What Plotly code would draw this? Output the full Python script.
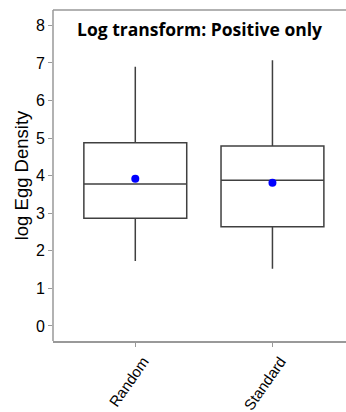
import plotly.graph_objects as go

categories = ["Random", "Standard"]
q1 = [2.87, 2.64]
median = [3.78, 3.88]
q3 = [4.88, 4.79]
lower = [1.73, 1.52]
upper = [6.90, 7.07]
means = [3.92, 3.81]

fig = go.Figure()
for i, c in enumerate(categories):
    fig.add_trace(go.Box(
        x=[c], q1=[q1[i]], median=[median[i]], q3=[q3[i]],
        lowerfence=[lower[i]], upperfence=[upper[i]],
        fillcolor="white", line=dict(color="#404040", width=1.5),
        whiskerwidth=0, width=0.75, showlegend=False, boxpoints=False,
    ))
fig.add_trace(go.Scatter(x=categories, y=means, mode="markers",
                         marker=dict(color="blue", size=8), showlegend=False))

fig.update_layout(
    width=352, height=412,
    margin=dict(l=53, r=0, t=10, b=71),
    plot_bgcolor="white", paper_bgcolor="white",
    font=dict(family="Liberation Sans, Arial", color="black"),
    annotations=[dict(text="<b>Log transform: Positive only</b>", x=0.49, y=0.985,
                      xref="paper", yref="paper", xanchor="center", yanchor="top",
                      showarrow=False, font=dict(family="Open Sans", size=17.5, color="black"))],
    shapes=[dict(type="line", xref="paper", yref="paper", x0=0, x1=1, y0=1, y1=1,
                 line=dict(color="#999999", width=1.5)),
            dict(type="line", xref="paper", yref="paper", x0=0, x1=0, y0=0, y1=1,
                 line=dict(color="#999999", width=1.5))],
)
fig.update_xaxes(range=[-0.6, 1.58], showline=True, linecolor="#999999", linewidth=1.5,
                 mirror=False, ticks="outside", ticklen=4, tickcolor="#999999",
                 tickangle=-55, tickfont=dict(size=15), ticklabelshift=8,
                 showgrid=False, automargin=False)
fig.update_yaxes(range=[-0.4, 8.41], showline=False,
                 ticks="outside", ticklen=4, tickcolor="#999999", dtick=1,
                 tickfont=dict(size=16), showgrid=False, zeroline=False, automargin=False,
                 title=dict(text="log Egg Density", font=dict(size=18.5), standoff=2))
fig.write_html("out.html", config={"displayModeBar": False},
               post_script="document.body.style.margin='0';document.body.style.overflow='hidden';")
